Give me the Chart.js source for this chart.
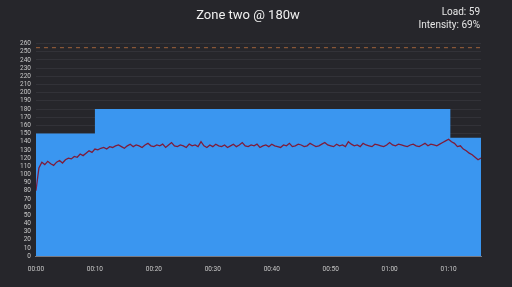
<!DOCTYPE html>
<html>
<head>
<meta charset="utf-8">
<script src="https://cdn.jsdelivr.net/npm/chart.js@4"></script>
<style>
  html, body { margin: 0; padding: 0; background: #26262b; }
  #wrap { position: relative; width: 512px; height: 287px; }
  #stats { position: absolute; right: 32px; top: 5px; color: #e6e6e6; font: 10px Roboto, sans-serif; text-align: right; line-height: 13px; }
</style>
</head>
<body>
<div id="wrap">
  <canvas id="chart" width="512" height="287"></canvas>
  <div id="stats">Load: 59<br>Intensity: 69%</div>
</div>
<script>
// workout target blocks (minutes, watts)
const targetMinutes = [0, 10, 70.3, 75.5];
const targetWatts = [150, 180, 145, 145];
const ftpWatts = 255;

// recorded power, one sample every 30 s
const sampleStep = 0.5;
const power = [
  80, 108, 115, 112, 116, 113, 111, 115, 117, 114,
  118, 120, 119, 122, 121, 125, 123, 126, 129, 127,
  131, 130, 132, 133, 131, 134, 133, 135, 136, 134,
  132, 135, 137, 134, 136, 135, 133, 136, 138, 135,
  134, 136, 135, 137, 133, 136, 139, 135, 134, 136,
  135, 133, 137, 135, 136, 134, 140, 135, 133, 136,
  134, 137, 135, 134, 136, 133, 135, 137, 134, 136,
  139, 135, 134, 136, 135, 137, 133, 135, 136, 134,
  137, 135, 134, 133, 136, 135, 138, 134, 135, 137,
  136, 134, 135, 138, 136, 134, 135, 137, 139, 136,
  135, 134, 137, 135, 136, 134, 140, 137, 135, 136,
  134, 138, 136, 135, 134, 137, 136, 135, 134, 136,
  139, 136, 135, 137, 136, 135, 134, 136, 137, 135,
  134, 136, 138, 135, 137, 136, 135, 137, 139, 141,
  143, 140, 138, 134, 135, 131, 129, 126, 124, 121,
  118, 120
];

const yTicks = { min: 0, max: 260, step: 10 };
const xTicks = { min: 0, max: 75.5, step: 10 };

function fmtTime(min) {
  const h = Math.floor(min / 60);
  const m = Math.round(min % 60);
  return String(h).padStart(2, '0') + ':' + String(m).padStart(2, '0');
}

const targetData = targetMinutes.map((m, i) => ({ x: m, y: targetWatts[i] }));
const powerData = power.map((w, i) => ({ x: i * sampleStep, y: w }));
const ftpData = [{ x: xTicks.min, y: ftpWatts }, { x: xTicks.max, y: ftpWatts }];

Chart.defaults.font.family = 'Roboto, sans-serif';

new Chart(document.getElementById('chart').getContext('2d'), {
  type: 'line',
  data: {
    datasets: [
      {
        data: ftpData,
        borderColor: '#a0623a',
        borderWidth: 1,
        borderDash: [4, 4],
        pointRadius: 0,
        fill: false,
        order: 0
      },
      {
        data: powerData,
        borderColor: '#7e1c3a',
        borderWidth: 1.3,
        pointRadius: 0,
        tension: 0,
        fill: false,
        order: 1
      },
      {
        data: targetData,
        stepped: 'before',
        borderWidth: 0,
        backgroundColor: '#3a96f0',
        pointRadius: 0,
        fill: 'origin',
        order: 2
      }
    ]
  },
  options: {
    responsive: false,
    animation: false,
    layout: { padding: { left: 15, right: 31, top: 0, bottom: 13 } },
    scales: {
      x: {
        type: 'linear',
        min: xTicks.min,
        max: xTicks.max,
        grid: { display: false },
        border: { color: '#7a7a80' },
        afterBuildTicks: axis => {
          axis.ticks = axis.ticks.filter(t => t.value % xTicks.step === 0);
        },
        ticks: {
          stepSize: xTicks.step,
          color: '#c8c8c8',
          font: { size: 6.5 },
          padding: 1,
          maxRotation: 0,
          callback: v => fmtTime(v)
        }
      },
      y: {
        min: yTicks.min,
        max: yTicks.max,
        grid: { color: '#323238', drawTicks: false },
        border: { display: false },
        ticks: {
          stepSize: yTicks.step,
          color: '#c8c8c8',
          font: { size: 6.5 },
          padding: 5,
          autoSkip: false
        }
      }
    },
    plugins: {
      legend: { display: false },
      tooltip: { enabled: false },
      title: {
        display: true,
        text: 'Zone two @ 180w',
        color: '#f0f0f0',
        font: { size: 13, weight: 'normal' },
        padding: { top: 8, bottom: 20 }
      }
    }
  }
});
</script>
</body>
</html>
